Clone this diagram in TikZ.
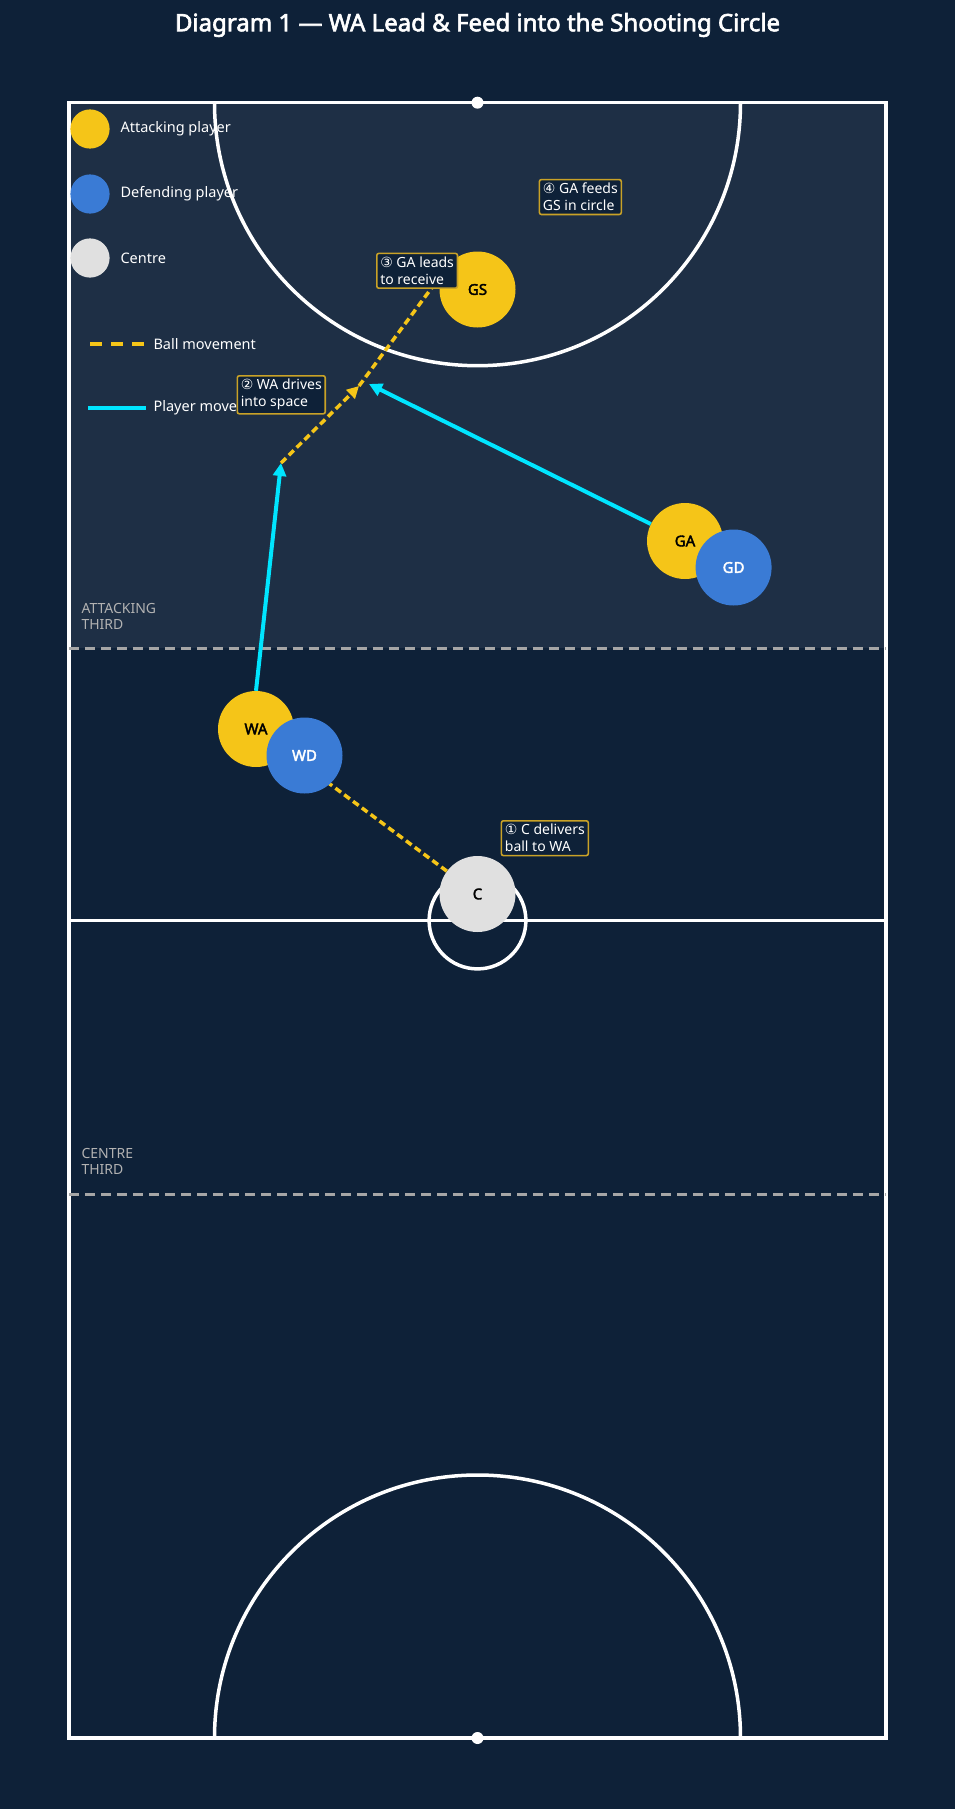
\documentclass[tikz,border=0pt]{standalone}
\usepackage{fontspec}
\setmainfont{Noto Sans}[AutoFakeBold=2.5]
\newfontfamily\symfont{DejaVu Sans}
\usetikzlibrary{arrows.meta}
\definecolor{bgdark}{HTML}{0E2138}
\definecolor{attzone}{HTML}{1E2F45}
\definecolor{attack}{HTML}{F5C518}
\definecolor{defend}{HTML}{3A7BD5}
\definecolor{centrec}{HTML}{E0E0E0}
\definecolor{movecyan}{HTML}{00E5FF}
\definecolor{boxedge}{HTML}{C9A227}
\tikzset{
  player/.style={circle, minimum size=76pt, inner sep=0pt, font=\fontsize{15}{17}\selectfont\bfseries},
  att/.style={player, fill=attack, text=black},
  def/.style={player, fill=defend, text=white},
  cen/.style={player, fill=centrec, text=black},
  court/.style={white, line width=3.5pt},
  third/.style={gray!70, line width=3pt, dash pattern=on 10pt off 6pt},
  ball/.style={attack, line width=3.5pt, dash pattern=on 7pt off 4pt},
  run/.style={movecyan, line width=4pt},
  note/.style={draw=boxedge, line width=1.6pt, fill=bgdark, text=white,
    rounded corners=2pt, align=left, inner sep=3.5pt, font=\fontsize{14}{17}\selectfont},
  legtxt/.style={anchor=west, text=white, font=\fontsize{14.5}{16}\selectfont},
  zonetxt/.style={anchor=west, text=gray!60, align=left, font=\fontsize{14}{16}\selectfont},
}
\newcommand{\cnum}[1]{{\symfont #1}}
\begin{document}
\begin{tikzpicture}[x=1pt,y=-1pt]
  \fill[bgdark] (0,0) rectangle (955,1809);
  \useasboundingbox (0,0) rectangle (955,1809);
  \node[text=white, font=\fontsize{24}{26}\selectfont\bfseries] (title) at (477.5,25)
    {Diagram 1 — WA Lead \& Feed into the Shooting Circle};
  % court
  \fill[attzone] (69.2,102.7) rectangle (885.8,648);
  \draw[court] (69.2,102.7) rectangle (885.8,1738);
  \draw[court] (69.2,920.5) -- (885.8,920.5);
  \draw[third] (69.2,648) -- (885.8,648);
  \draw[third] (69.2,1194) -- (885.8,1194);
  \draw[court] (214.5,102.7) arc (180:0:263);
  \draw[court] (214.5,1738) arc (180:360:263);
  \draw[court] (477.5,920.5) circle (48.4);
  \fill[white] (477.5,102.7) circle (6) (477.5,1738) circle (6);
  \node[zonetxt] (attlbl) at (78,616) {ATTACKING\\THIRD};
  \node[zonetxt] (cenlbl) at (78,1161) {CENTRE\\THIRD};
  % path points
  \coordinate (wadrive) at (281,463);
  \coordinate (lead) at (359,386);
  \coordinate (gadrive) at (369,384);
  % players
  \node[att] (GS) at (477.5,289.5) {GS};
  \node[att] (GA) at (685,541) {GA};
  \node[def] (GD) at (733.6,567.5) {GD};
  \node[att] (WA) at (256,729) {WA};
  \node[cen] (C) at (477.5,894) {C};
  % movements
  \draw[ball] (C) -- (WA);
  \node[def] (WD) at (304.5,755.5) {WD};
  \draw[ball, -{Triangle[length=12pt,width=12pt]}] (wadrive) -- (lead);
  \draw[ball] (lead) -- (GS.north west);
  \draw[run, -{Triangle[length=13pt,width=13pt]}] (WA.north) -- (wadrive);
  \draw[run, -{Triangle[length=13pt,width=13pt]}] (GA) -- (gadrive);
  % legend
  \fill[attack] (90,129) circle (19.6);
  \fill[defend] (90,194) circle (19.6);
  \fill[centrec] (90,258) circle (19.6);
  \node[legtxt] (l1) at (117,129) {Attacking player};
  \node[legtxt] (l2) at (117,194) {Defending player};
  \node[legtxt] (l3) at (117,258) {Centre};
  \coordinate (bl0) at (90,344); \coordinate (bl1) at (144,344);
  \coordinate (pl0) at (88,408); \coordinate (pl1) at (146,408);
  \draw[ball, dash pattern=on 12pt off 9pt] (bl0) -- (bl1);
  \draw[run] (pl0) -- (pl1);
  \node[legtxt] (l4) at (150,344) {Ball movement};
  \node[legtxt] (l5) at (150,408) {Player movement};
  % notes
  \node[note, anchor=north west] (n1) at (500.6,820) {\cnum{①} C delivers\\ball to WA};
  \node[note, anchor=north west] (n2) at (236.5,375) {\cnum{②} WA drives\\into space};
  \node[note, anchor=north west] (n3) at (376,252.6) {\cnum{③} GA leads\\to receive};
  \node[note, anchor=north west] (n4) at (538.6,178.8) {\cnum{④} GA feeds\\GS in circle};
\end{tikzpicture}
\end{document}
